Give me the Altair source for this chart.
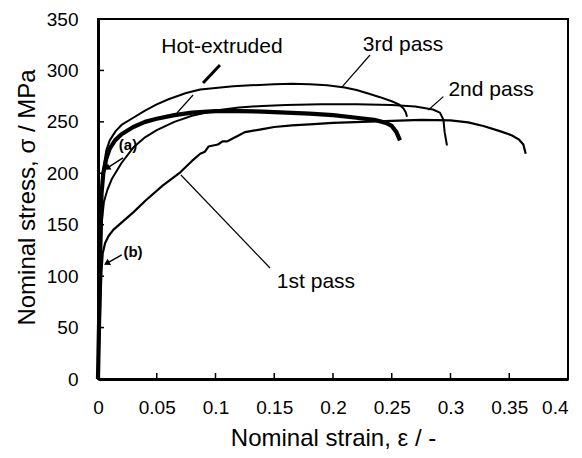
import altair as alt
import pandas as pd

# ---- data ----
he_strain = [0, 0.001, 0.002, 0.003, 0.0045, 0.007, 0.01, 0.0145, 0.02, 0.03, 0.04, 0.05, 0.065, 0.08, 0.1, 0.12, 0.14, 0.16, 0.18, 0.2, 0.22, 0.235, 0.245, 0.25, 0.254, 0.257]
he_stress = [0, 60, 130, 180, 200, 214, 224, 232, 238, 245, 250, 253, 256.5, 259, 260.5, 260.5, 260, 259, 258, 256.5, 254, 252, 249, 246, 240, 232]

p1_strain = [0, 0.001, 0.002, 0.003, 0.004, 0.006, 0.009, 0.013, 0.02, 0.03, 0.041, 0.055, 0.07, 0.08, 0.087, 0.091, 0.094, 0.098, 0.102, 0.106, 0.11, 0.115, 0.12, 0.125, 0.13, 0.14, 0.15, 0.165, 0.18, 0.2, 0.225, 0.25, 0.275, 0.3, 0.315, 0.328, 0.342, 0.352, 0.358, 0.362, 0.364]
p1_stress = [0, 35, 75, 105, 122, 132, 139, 145, 152, 162, 174, 188, 201, 212, 219, 221, 226, 227, 228, 231, 231, 234, 237, 240, 241, 243, 245, 246.5, 247.5, 249, 250, 251, 252, 251.5, 249.5, 246, 241, 237, 233, 228, 219]

p2_strain = [0, 0.001, 0.002, 0.003, 0.005, 0.008, 0.012, 0.02, 0.03, 0.04, 0.05, 0.065, 0.08, 0.1, 0.12, 0.14, 0.16, 0.19, 0.22, 0.25, 0.27, 0.285, 0.291, 0.294, 0.295, 0.297]
p2_stress = [0, 50, 110, 150, 172, 184, 195, 210, 225, 235, 242, 250, 256, 261, 264, 265.5, 266.5, 267, 267, 266.5, 265, 262, 259, 252, 240, 227]

p3_strain = [0, 0.001, 0.002, 0.004, 0.007, 0.01, 0.015, 0.02, 0.03, 0.04, 0.05, 0.06, 0.075, 0.087, 0.1, 0.115, 0.13, 0.15, 0.165, 0.18, 0.195, 0.21, 0.22, 0.23, 0.24, 0.25, 0.256, 0.26, 0.262, 0.263]
p3_stress = [0, 70, 150, 200, 222, 232, 241, 247, 254, 261, 267, 272, 278, 281.5, 283, 284.5, 285.5, 286.5, 287, 286.5, 285.5, 283.5, 281, 277.5, 274, 270, 267, 263, 259, 255]

x_ticks = [0, 0.05, 0.1, 0.15, 0.2, 0.25, 0.3, 0.35, 0.4]
y_ticks = [0, 50, 100, 150, 200, 250, 300, 350]

label_text = ["Hot-extruded", "3rd pass", "2nd pass", "1st pass"]
label_x = [0.1055, 0.2596, 0.3345, 0.1855]
label_y = [322.8, 324.7, 281.0, 94.3]

sub_text = ["(a)", "(b)"]
sub_x = [0.0255, 0.0298]
sub_y = [227.5, 123.5]

# leader lines: (x, y) -> (x2, y2)
lead_x = [0.1038, 0.0809, 0.2315, 0.2939, 0.1464]
lead_y = [305.3, 276.1, 315.0, 274.5, 107.9]
lead_x2 = [0.0894, 0.0672, 0.2074, 0.2811, 0.0706]
lead_y2 = [287.8, 258.6, 283.6, 261.5, 198.3]
lead_w = [3, 1.2, 1.2, 1.2, 1.2]

# arrows for (a), (b): tail -> tip
arr_x = [0.0213, 0.0202]
arr_y = [214.9, 120.6]
arr_x2 = [0.0077, 0.0074]
arr_y2 = [205.1, 112.5]
arr_ang = [238, 241]

FONT = "Liberation Sans"
W, H = 470, 360

xscale = alt.Scale(domain=[0, 0.4], nice=False, zero=False)
yscale = alt.Scale(domain=[0, 350], nice=False, zero=False)

xaxis = alt.Axis(values=x_ticks, format=".2~f", grid=False, ticks=False, tickSize=0,
                 labelPadding=19, labelFlush=False, labelOverlap=False,
                 labelAlign={"condition": {"test": "datum.value >= 0.39", "value": "right"}, "value": "center"},
                 labelFont=FONT, labelFontSize=19, labelColor="black",
                 domainColor="black", domainWidth=3,
                 title="Nominal strain, ε / -", titleFont=FONT, titleFontSize=24,
                 titleFontWeight="normal", titleColor="black", titleY=59, titleBaseline="middle")
yaxis = alt.Axis(values=y_ticks, grid=False, ticks=False, tickSize=0,
                 labelPadding=20, labelFlush=False, labelOverlap=False,
                 labelFont=FONT, labelFontSize=19, labelColor="black",
                 domainColor="black", domainWidth=3,
                 title="Nominal stress, σ / MPa", titleFont=FONT, titleFontSize=24,
                 titleFontWeight="normal", titleColor="black", titleX=-71, titleY=178,
                 titleBaseline="middle")


def X(field):
    return alt.X(field, scale=xscale, axis=xaxis, title="Nominal strain, ε / -")


def Y(field):
    return alt.Y(field, scale=yscale, axis=yaxis, title="Nominal stress, σ / MPa")


def curve(sx, sy, width):
    df = pd.DataFrame({"strain": sx, "stress": sy, "i": range(len(sx))})
    return alt.Chart(df).mark_line(color="black", strokeWidth=width, strokeJoin="round").encode(
        x=X("strain:Q"), y=Y("stress:Q"), order="i:Q")


c1 = curve(p1_strain, p1_stress, 2.2)
c2 = curve(p2_strain, p2_stress, 2.0)
c3 = curve(p3_strain, p3_stress, 2.0)
che = curve(he_strain, he_stress, 4.2)

# plot frame
frame = alt.Chart(pd.DataFrame({"k": [0]})).mark_rect(fill=None, stroke="black", strokeWidth=2).encode(
    x=alt.value(0), x2=alt.value(W), y=alt.value(0), y2=alt.value(H))

# inward tick marks
ytk = pd.DataFrame({"stress": y_ticks[1:-1]})
ytick_layer = alt.Chart(ytk).mark_rule(color="black", strokeWidth=1.5).encode(
    y=Y("stress:Q"), x=alt.value(0), x2=alt.value(6))
xtk = pd.DataFrame({"strain": x_ticks[1:-1]})
xtick_layer = alt.Chart(xtk).mark_rule(color="black", strokeWidth=1.5).encode(
    x=X("strain:Q"), y=alt.value(H - 6), y2=alt.value(H))

# leaders
ldf = pd.DataFrame({"strain": lead_x, "stress": lead_y, "x2": lead_x2, "y2": lead_y2, "w": lead_w})
leaders = alt.Chart(ldf).mark_rule(color="black").encode(
    x=X("strain:Q"), y=Y("stress:Q"),
    x2="x2:Q", y2="y2:Q", strokeWidth=alt.StrokeWidth("w:Q", scale=None, legend=None))

adf = pd.DataFrame({"strain": arr_x, "stress": arr_y, "x2": arr_x2, "y2": arr_y2, "ang": arr_ang})
arrows = alt.Chart(adf).mark_rule(color="black", strokeWidth=1.5).encode(
    x=X("strain:Q"), y=Y("stress:Q"), x2="x2:Q", y2="y2:Q")
hdf = pd.DataFrame({"strain": arr_x2, "stress": arr_y2, "ang": arr_ang})
heads = alt.Chart(hdf).mark_point(shape="triangle-up", filled=True, color="black", opacity=1, size=50).encode(
    x=X("strain:Q"), y=Y("stress:Q"), angle=alt.Angle("ang:Q", scale=None))

tdf = pd.DataFrame({"t": label_text, "strain": label_x, "stress": label_y})
texts = alt.Chart(tdf).mark_text(font=FONT, fontSize=21, color="black", align="center", baseline="middle").encode(
    x=X("strain:Q"), y=Y("stress:Q"), text="t:N")

sdf = pd.DataFrame({"t": sub_text, "strain": sub_x, "stress": sub_y})
subs = alt.Chart(sdf).mark_text(font=FONT, fontSize=15, fontWeight="bold", color="black", align="center", baseline="middle").encode(
    x=X("strain:Q"), y=Y("stress:Q"), text="t:N")

chart = alt.layer(frame, c1, c2, c3, che, ytick_layer, xtick_layer, leaders, arrows, heads, texts, subs).properties(
    width=W, height=H,
    autosize=alt.AutoSizeParams(type="none"),
    padding={"left": 90, "top": 11, "right": 6, "bottom": 71},
).configure_view(stroke="black", strokeWidth=2).configure(background="white")

chart.save("out.html", embed_options={"renderer": "svg", "actions": False})
